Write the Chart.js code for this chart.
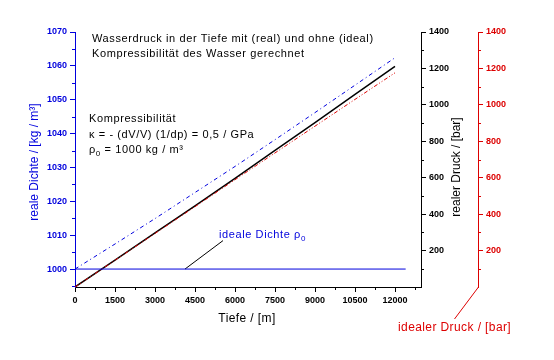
<!DOCTYPE html>
<html>
<head>
<meta charset="utf-8">
<script src="https://cdn.jsdelivr.net/npm/chart.js@4/dist/chart.umd.min.js"></script>
<style>
  html, body { margin: 0; padding: 0; background: #fff; }
  canvas { display: block; }
</style>
</head>
<body>
<canvas id="druckChart" width="554" height="360"></canvas>
<script>
const depth = [0, 1500, 3000, 4500, 6000, 7500, 9000, 10500, 12000];
const realDensity = [1000, 1007.4, 1014.9, 1022.6, 1030.3, 1038.2, 1046.2, 1054.3, 1062.4];
const realPressure = [0, 148, 297, 446, 597, 750, 903, 1057, 1211];
const idealPressure = [0, 147, 294, 441, 589, 736, 883, 1030, 1176];
const idealDensityDepth = [0, 12400];
const idealDensity = [1000, 1000];
// Hinweislinie zum Text "ideale Dichte"
const pointerDepth = [4125, 5550];
const pointerDensity = [1000, 1008.4];

// Achsenbeschriftungen
const depthTicks = [0, 1500, 3000, 4500, 6000, 7500, 9000, 10500, 12000];
const depthMinor = [750, 2250, 3750, 5250, 6750, 8250, 9750, 11250, 12750];
const densityTicks = [1000, 1010, 1020, 1030, 1040, 1050, 1060, 1070];
const densityMinor = [995, 1005, 1015, 1025, 1035, 1045, 1055, 1065];
const pressureTicks = [200, 400, 600, 800, 1000, 1200, 1400];
const pressureMinor = [100, 300, 500, 700, 900, 1100, 1300];

const BLUE = '#0000dd';
const RED = '#dd0000';
const FONT = '"Liberation Sans", Arial, sans-serif';

function pts(xs, ys) {
    return xs.map((x, i) => ({ x: x, y: ys[i] }));
}

function setTicks(values) {
    return function(scale) {
        scale.ticks = values.map(v => ({ value: v }));
    };
}

function axis(color, ticks, extra) {
    return Object.assign({
        border: { display: true, color: color, width: 1 },
        grid: { display: true, drawOnChartArea: false, drawTicks: true, tickLength: 5, color: color },
        ticks: {
            color: color,
            padding: 3,
            font: { family: FONT, size: 9, weight: 'bold' },
            callback: v => String(v)
        },
        afterBuildTicks: setTicks(ticks)
    }, extra);
}

// kleine Zwischenstriche, Texte und der schräge Achsenfuß
const decoPlugin = {
    id: 'deco',
    afterDraw(chart) {
        const c = chart.ctx;
        const s = chart.scales;
        const area = chart.chartArea;
        c.save();
        c.lineWidth = 1;

        c.strokeStyle = '#000';
        c.beginPath();
        depthMinor.forEach(v => {
            const px = Math.round(s.x.getPixelForValue(v)) + 0.5;
            c.moveTo(px, area.bottom); c.lineTo(px, area.bottom + 3);
        });
        c.stroke();

        c.strokeStyle = BLUE;
        c.beginPath();
        densityMinor.forEach(v => {
            const py = Math.round(s.yD.getPixelForValue(v)) + 0.5;
            c.moveTo(s.yD.right, py); c.lineTo(s.yD.right - 3, py);
        });
        c.stroke();

        c.strokeStyle = '#000';
        c.beginPath();
        pressureMinor.forEach(v => {
            const py = Math.round(s.yP.getPixelForValue(v)) + 0.5;
            c.moveTo(s.yP.left, py); c.lineTo(s.yP.left + 3, py);
        });
        c.stroke();

        c.strokeStyle = RED;
        c.beginPath();
        pressureMinor.forEach(v => {
            const py = Math.round(s.yI.getPixelForValue(v)) + 0.5;
            c.moveTo(s.yI.left, py); c.lineTo(s.yI.left + 3, py);
        });
        // abgeknickter Fuß der roten Achse
        c.moveTo(s.yI.left + 0.5, area.bottom);
        c.lineTo(s.yI.left - 23.5, area.bottom + 32);
        c.stroke();

        // Titel
        c.fillStyle = '#000';
        c.textBaseline = 'middle';
        c.textAlign = 'left';
        c.letterSpacing = '0.6px';
        c.font = '11px ' + FONT;
        c.fillText('Wasserdruck in der Tiefe mit (real) und ohne (ideal)', 92, 39);
        c.fillText('Kompressibilität des Wasser gerechnet', 92, 54);

        c.fillText('Kompressibilität', 89, 119);
        c.fillText('κ = - (dV/V) (1/dp) = 0,5 / GPa', 89, 135);
        c.fillText('ρ', 89, 150);
        let w = c.measureText('ρ').width;
        c.font = '8px ' + FONT;
        c.fillText('0', 89 + w, 154);
        let w2 = c.measureText('0').width;
        c.font = '11px ' + FONT;
        c.fillText(' = 1000 kg / m³', 89 + w + w2, 150);

        // ideale Dichte Beschriftung an der Hinweislinie
        const lx = s.x.getPixelForValue(pointerDepth[1]) - 4;
        const ly = s.yD.getPixelForValue(pointerDensity[1]) - 6;
        c.fillStyle = BLUE;
        c.fillText('ideale Dichte ρ', lx, ly);
        w = c.measureText('ideale Dichte ρ').width;
        c.font = '8px ' + FONT;
        c.fillText('0', lx + w, ly + 4);

        // Achsentitel
        c.letterSpacing = '0.4px';
        c.font = '12px ' + FONT;
        c.textAlign = 'center';
        c.fillStyle = '#000';
        c.fillText('Tiefe / [m]', 247, 319);
        c.fillStyle = RED;
        c.textAlign = 'left';
        c.fillText('idealer Druck / [bar]', 398, 328);

        c.letterSpacing = '0px';
        c.save();
        c.translate(35, 162);
        c.rotate(-Math.PI / 2);
        c.textAlign = 'center';
        c.fillStyle = BLUE;
        c.fillText('reale Dichte / [kg / m³]', 0, 0);
        c.restore();

        c.save();
        c.translate(457, 167);
        c.rotate(-Math.PI / 2);
        c.textAlign = 'center';
        c.fillStyle = '#000';
        c.fillText('realer Druck / [bar]', 0, 0);
        c.restore();

        c.restore();
    }
};

const ctx = document.getElementById('druckChart').getContext('2d');

new Chart(ctx, {
    type: 'line',
    data: {
        datasets: [
            {
                label: 'ideale Dichte',
                data: pts(idealDensityDepth, idealDensity),
                yAxisID: 'yD',
                borderColor: BLUE,
                borderWidth: 1
            },
            {
                label: 'Hinweis',
                data: pts(pointerDepth, pointerDensity),
                yAxisID: 'yD',
                borderColor: '#000',
                borderWidth: 1
            },
            {
                label: 'reale Dichte',
                data: pts(depth, realDensity),
                yAxisID: 'yD',
                borderColor: BLUE,
                borderWidth: 1,
                borderDash: [4, 3, 1, 3]
            },
            {
                label: 'idealer Druck',
                data: pts(depth, idealPressure),
                yAxisID: 'yI',
                borderColor: RED,
                borderWidth: 1,
                borderDash: [4, 2, 1, 2, 1, 2]
            },
            {
                label: 'realer Druck',
                data: pts(depth, realPressure),
                yAxisID: 'yP',
                borderColor: '#000',
                borderWidth: 1.5
            }
        ]
    },
    options: {
        responsive: false,
        animation: false,
        devicePixelRatio: 1,
        layout: { padding: { top: 32, left: 0, right: 0, bottom: 0 } },
        elements: { point: { radius: 0 }, line: { tension: 0 } },
        plugins: {
            legend: { display: false },
            tooltip: { enabled: false }
        },
        scales: {
            x: axis('#000', depthTicks, {
                type: 'linear',
                position: 'bottom',
                min: 0,
                max: 12975,
                afterFit: s => { s.height = 73; }
            }),
            yD: axis(BLUE, densityTicks, {
                type: 'linear',
                position: 'left',
                min: 994.7,
                max: 1070,
                afterFit: s => { s.width = 75; }
            }),
            yP: axis('#000', pressureTicks, {
                type: 'linear',
                position: 'right',
                weight: 0,
                min: 0,
                max: 1400,
                afterFit: s => { s.width = 57; }
            }),
            yI: axis(RED, pressureTicks, {
                type: 'linear',
                position: 'right',
                weight: 1,
                min: 0,
                max: 1400,
                afterFit: s => { s.width = 76; }
            })
        }
    },
    plugins: [decoPlugin]
});
</script>
</body>
</html>
